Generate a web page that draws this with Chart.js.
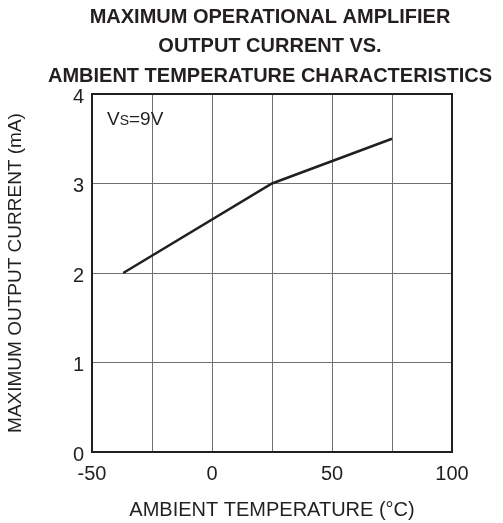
<!DOCTYPE html>
<html>
<head>
<meta charset="utf-8">
<script src="https://cdn.jsdelivr.net/npm/chart.js@4"></script>
<style>
  html, body { margin: 0; padding: 0; background: #fff; }
  #wrap { width: 503px; height: 523px; }
</style>
</head>
<body>
<div id="wrap"><canvas id="chart" width="503" height="523"></canvas></div>
<script>
// données
const temperatures = [-37, 25, 75];
const courants = [2, 3, 3.5];
const xTicks = [-50, -25, 0, 25, 50, 75, 100];
const xLabels = [-50, 0, 50, 100];
const yTicks = [0, 1, 2, 3, 4];
const titleLines = ['MAXIMUM OPERATIONAL AMPLIFIER', 'OUTPUT CURRENT VS.', 'AMBIENT TEMPERATURE CHARACTERISTICS'];

const FONT = "'Liberation Sans', Arial, sans-serif";

// titre, cadre et annotation Vs=9V
const decor = {
  id: 'decor',
  afterDraw(chart) {
    const ctx = chart.ctx;
    const a = chart.chartArea;
    ctx.save();
    ctx.strokeStyle = '#231f20';
    ctx.lineWidth = 2;
    ctx.strokeRect(a.left, a.top, a.right - a.left, a.bottom - a.top);

    ctx.fillStyle = '#231f20';
    ctx.textAlign = 'center';
    ctx.textBaseline = 'middle';
    ctx.font = 'bold 20px ' + FONT;
    const ys = [17, 46, 76];
    titleLines.forEach((t, i) => ctx.fillText(t, 270, ys[i]));

    ctx.textAlign = 'left';
    ctx.textBaseline = 'alphabetic';
    let x = a.left + 15;
    const base = 125;
    ctx.font = '19px ' + FONT;
    ctx.fillText('V', x, base);
    x += ctx.measureText('V').width;
    ctx.font = '14px ' + FONT;
    ctx.fillText('S', x, base);
    x += ctx.measureText('S').width;
    ctx.font = '19px ' + FONT;
    ctx.fillText('=9V', x, base);
    ctx.restore();
  }
};

const ctx = document.getElementById('chart').getContext('2d');
const chart = new Chart(ctx, {
  type: 'line',
  data: {
    datasets: [{
      data: temperatures.map((t, i) => ({ x: t, y: courants[i] })),
      borderColor: '#231f20',
      borderWidth: 2.5,
      pointRadius: 0,
      fill: false,
      tension: 0
    }]
  },
  options: {
    responsive: false,
    animation: false,
    layout: { padding: { top: 94, right: 51, left: 0, bottom: 0 } },
    plugins: { legend: { display: false }, tooltip: { enabled: false } },
    scales: {
      x: {
        type: 'linear',
        min: -50,
        max: 100,
        afterBuildTicks: (s) => { s.ticks = xTicks.map(v => ({ value: v })); },
        afterFit: (s) => { s.height = 71; },
        grid: { color: '#707070', lineWidth: 1, drawTicks: false },
        border: { display: false },
        ticks: {
          padding: 10,
          color: '#231f20',
          font: { family: FONT, size: 20 },
          maxRotation: 0,
          autoSkip: false,
          callback: (v) => xLabels.includes(v) ? String(v) : ''
        },
        title: {
          display: true,
          text: 'AMBIENT TEMPERATURE (°C)',
          color: '#231f20',
          font: { family: FONT, size: 20 },
          padding: { top: 0, bottom: 1 }
        }
      },
      y: {
        min: 0,
        max: 4,
        afterBuildTicks: (s) => { s.ticks = yTicks.map(v => ({ value: v })); },
        afterFit: (s) => { s.width = 92; },
        grid: { color: '#707070', lineWidth: 1, drawTicks: false },
        border: { display: false },
        ticks: {
          padding: 8,
          labelOffset: 3,
          color: '#231f20',
          font: { family: FONT, size: 20 }
        },
        title: {
          display: true,
          text: 'MAXIMUM OUTPUT CURRENT (mA)',
          color: '#231f20',
          font: { family: FONT, size: 19 },
          padding: { top: 4, bottom: 0 }
        }
      }
    }
  },
  plugins: [decor]
});
</script>
</body>
</html>
